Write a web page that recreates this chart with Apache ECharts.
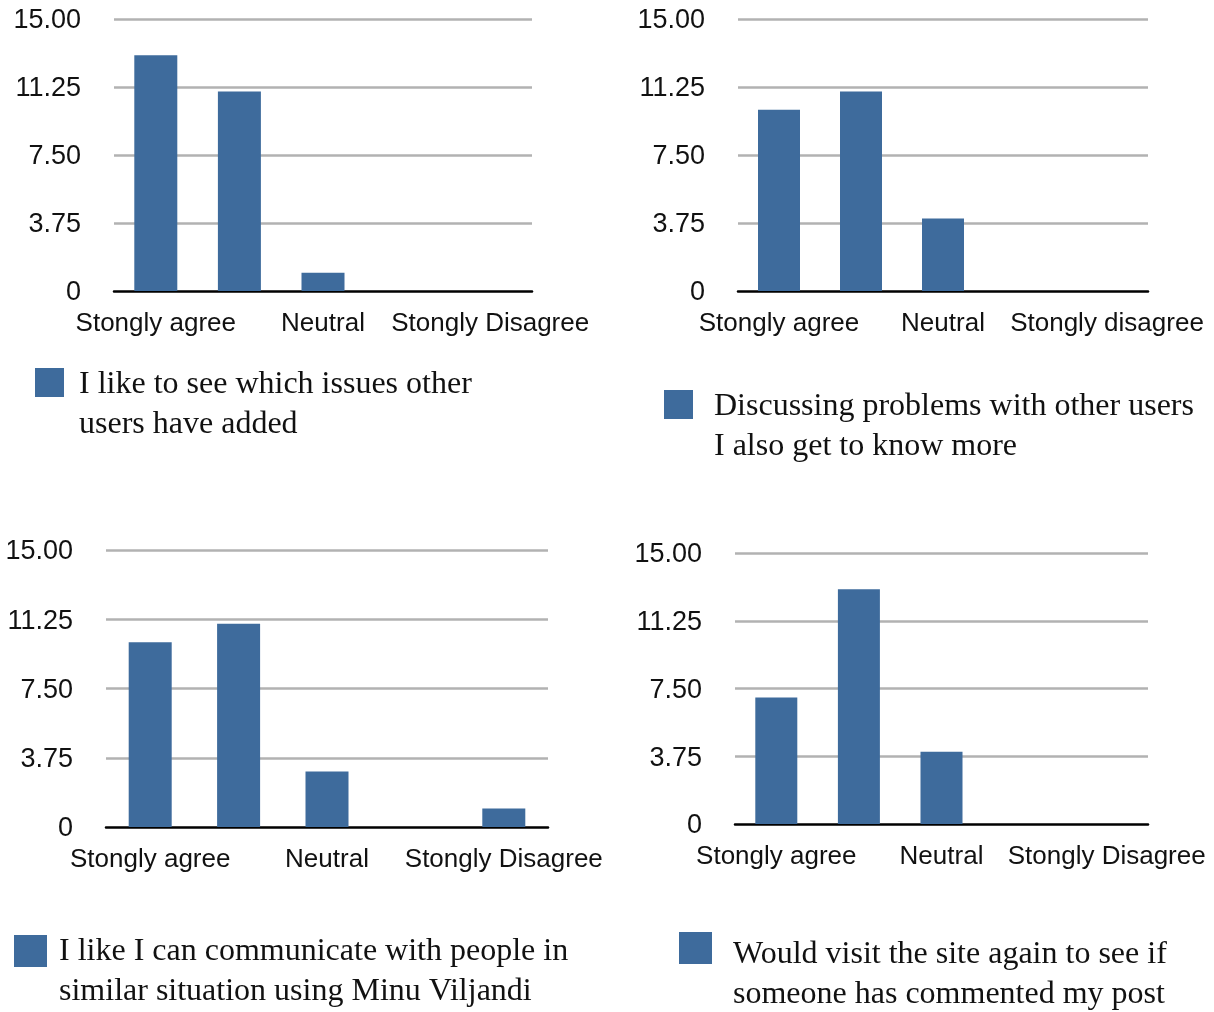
<!DOCTYPE html>
<html>
<head>
<meta charset="utf-8">
<script src="https://cdn.jsdelivr.net/npm/echarts@6/dist/echarts.min.js"></script>
<style>
  html, body { margin: 0; padding: 0; background: #ffffff; }
  #chart { width: 1214px; height: 1012px; }
</style>
</head>
<body>
<div id="chart"></div>
<script>
// Survey answers (number of respondents) for four statements
const categoriesA = ['Stongly agree', 'Agree', 'Neutral', 'Disagree', 'Stongly Disagree'];
const categoriesB = ['Stongly agree', 'Agree', 'Neutral', 'Disagree', 'Stongly disagree'];
const yTickLabels = ['0', '3.75', '7.50', '11.25', '15.00'];

const seeIssuesValues   = [13, 11, 1, 0, 0];
const discussingValues  = [10, 11, 4, 0, 0];
const communicateValues = [10, 11, 3, 0, 1];
const visitAgainValues  = [7, 13, 4, 0, 0];

const seeIssuesName   = ['I like to see which issues other', 'users have added'];
const discussingName  = ['Discussing problems with other users', 'I also get to know more'];
const communicateName = ['I like I can communicate with people in', 'similar situation using Minu Viljandi'];
const visitAgainName  = ['Would visit the site again to see if', 'someone has commented my post'];

// Panel layout (page pixels); textDrop = how far the first legend line sits below the swatch centre
const panels = [
  { lines: seeIssuesName,   cats: categoriesA, values: seeIssuesValues,
    grid: { left: 114, top: 19, width: 418, height: 272 }, barWidth: 43,
    legend: { left: 35, iconMid: 382.5, size: [29, 29], gap: 15, textDrop: 2.5 } },
  { lines: discussingName,  cats: categoriesB, values: discussingValues,
    grid: { left: 738, top: 19, width: 410, height: 272 }, barWidth: 42,
    legend: { left: 664, iconMid: 404.5, size: [29, 29], gap: 21, textDrop: 2.5 } },
  { lines: communicateName, cats: categoriesA, values: communicateValues,
    grid: { left: 106, top: 550, width: 442, height: 277 }, barWidth: 43,
    legend: { left: 14, iconMid: 951, size: [33, 32], gap: 12, textDrop: 1 } },
  { lines: visitAgainName,  cats: categoriesA, values: visitAgainValues,
    grid: { left: 735, top: 553, width: 413, height: 271 }, barWidth: 42,
    legend: { left: 679, iconMid: 948, size: [33, 32], gap: 21, textDrop: 7 } }
];

const barColor = '#3e6b9c';
const sansFont = '"Liberation Sans", Arial, Helvetica, sans-serif';
const serifFont = '"Liberation Serif", "Times New Roman", serif';
const LINE_H = 40;
const LEGEND_FONT = 32;

function spacerHeight(p) {
  return LINE_H + 2 * p.legend.textDrop;
}

const option = {
  backgroundColor: '#ffffff',
  animation: false,
  grid: panels.map(p => Object.assign({ containLabel: false }, p.grid)),
  xAxis: panels.map((p, i) => ({
    type: 'category',
    gridIndex: i,
    data: p.cats,
    axisLine: { show: true, lineStyle: { color: '#000000', width: 2.5 } },
    axisTick: { show: false },
    splitLine: { show: false },
    axisLabel: {
      interval: 1,
      margin: 20,
      fontSize: 26,
      fontFamily: sansFont,
      color: '#111111'
    }
  })),
  yAxis: panels.map((p, i) => ({
    type: 'value',
    gridIndex: i,
    min: 0,
    max: 15,
    interval: 3.75,
    axisLine: { show: false },
    axisTick: { show: false },
    splitLine: { show: true, showMinLine: false, lineStyle: { color: '#b2b2b2', width: 2.5 } },
    axisLabel: {
      margin: 33,
      fontSize: 27,
      fontFamily: sansFont,
      color: '#111111',
      verticalAlign: 'top',
      lineHeight: 4,
      formatter: (v, idx) => yTickLabels[idx]
    }
  })),
  legend: panels.map(p => {
    const sp = spacerHeight(p);
    return {
      data: [p.lines.join(' ')],
      left: p.legend.left,
      top: p.legend.iconMid - (sp + 2 * LINE_H) / 2,
      padding: 0,
      orient: 'vertical',
      icon: 'rect',
      itemWidth: p.legend.size[0],
      itemHeight: p.legend.size[1],
      selectedMode: false,
      formatter: () => '{sp| }\n{t|' + p.lines[0] + '}\n{t|' + p.lines[1] + '}',
      textStyle: {
        padding: [0, 0, 0, p.legend.gap - 5],
        rich: {
          sp: { fontSize: 10, lineHeight: sp, height: sp },
          t: { fontFamily: serifFont, fontSize: LEGEND_FONT, color: '#111111', lineHeight: LINE_H, height: LINE_H }
        }
      }
    };
  }),
  series: panels.map((p, i) => ({
    type: 'bar',
    name: p.lines.join(' '),
    xAxisIndex: i,
    yAxisIndex: i,
    data: p.values,
    barWidth: p.barWidth,
    itemStyle: { color: barColor },
    z: 1
  }))
};

const chart = echarts.init(document.getElementById('chart'), null, { renderer: 'canvas' });
chart.setOption(option);
</script>
</body>
</html>
